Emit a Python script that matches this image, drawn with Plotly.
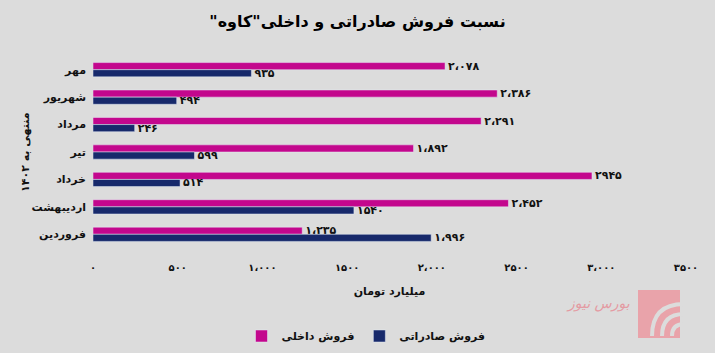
import plotly.graph_objects as go

months = ["مهر", "شهریور", "مرداد", "تیر", "خرداد", "اردیبهشت", "فروردین"]
domestic = [2078, 2386, 2291, 1892, 2945, 2452, 1235]
export = [935, 494, 246, 599, 514, 1540, 1996]
domestic_labels = ["۲،۰۷۸", "۲،۳۸۶", "۲،۲۹۱", "۱،۸۹۲", "۲۹۴۵", "۲،۴۵۲", "۱،۲۳۵"]
export_labels = ["۹۳۵", "۴۹۴", "۲۴۶", "۵۹۹", "۵۱۴", "۱۵۴۰", "۱،۹۹۶"]
tick_vals = [0, 500, 1000, 1500, 2000, 2500, 3000, 3500]
tick_text = ["۰", "۵۰۰", "۱،۰۰۰", "۱۵۰۰", "۲،۰۰۰", "۲۵۰۰", "۳،۰۰۰", "۳۵۰۰"]

PINK = "#C3078D"
NAVY = "#17296B"
FONT = "DejaVu Sans"

W, H = 715, 353
ML, MR, MT, MB = 93, 29, 56, 105
PW, PH = W - ML - MR, H - MT - MB


def px(x):
    return (x - ML) / PW


def py(y):
    return (H - MB - y) / PH


fig = go.Figure()
fig.add_trace(go.Bar(
    y=months, x=domestic, orientation="h", name="<b>فروش داخلی</b>",
    marker_color=PINK, text=[f"<b>{t}</b>" for t in domestic_labels],
    textposition="outside", constraintext="none",
    textfont=dict(family=FONT, size=11, color="#111111"), cliponaxis=False,
))
fig.add_trace(go.Bar(
    y=months, x=export, orientation="h", name="<b>فروش صادراتی</b>",
    marker_color=NAVY, text=[f"<b>{t}</b>" for t in export_labels],
    textposition="outside", constraintext="none",
    textfont=dict(family=FONT, size=11, color="#111111"), cliponaxis=False,
))

fig.update_layout(
    width=W, height=H,
    margin=dict(l=ML, r=MR, t=MT, b=MB, autoexpand=False),
    paper_bgcolor="#DCDCDC", plot_bgcolor="#DCDCDC",
    barmode="group", bargap=0.48, bargroupgap=0,
    font=dict(family=FONT, size=11, color="#111111"),
    title=dict(text="<b>نسبت فروش صادراتی و داخلی\"کاوه\"\u200f</b>",
               x=0.5, xanchor="center", y=0.94, yanchor="middle",
               font=dict(family=FONT, size=16, color="#000000")),
    xaxis=dict(range=[0, 3500], tickvals=tick_vals,
               ticktext=[f"<b>{t}</b>" for t in tick_text],
               showgrid=False, zeroline=False, showline=False,
               ticks="", ticklabelstandoff=12,
               tickfont=dict(family=FONT, size=10, color="#111111"),
               title=dict(text="<b>میلیارد تومان</b>", standoff=15,
                          font=dict(family=FONT, size=11))),
    yaxis=dict(autorange="reversed", showgrid=False, zeroline=False,
               showline=False, ticks="", ticklabelstandoff=6,
               tickvals=months, ticktext=[f"<b>{m}</b>" for m in months],
               tickfont=dict(family=FONT, size=11, color="#111111")),
    legend=dict(orientation="h", x=px(366), xanchor="center", y=py(336),
                yanchor="middle", traceorder="normal",
                font=dict(family=FONT, size=11), bgcolor="rgba(0,0,0,0)"),
    showlegend=True,
)

# y-axis title
fig.add_annotation(xref="paper", yref="paper", x=px(25), y=0.5,
                   text="<b>منتهی به ۱۴۰۲</b>", textangle=-90, showarrow=False,
                   xanchor="center", yanchor="middle",
                   font=dict(family=FONT, size=11, color="#111111"))

# watermark logo (approximate)
fig.add_shape(type="rect", xref="paper", yref="paper",
              x0=px(638), x1=px(680), y0=py(338), y1=py(290),
              fillcolor="#E9A3AA", line_width=0, layer="below")
for r in (12, 22, 32):
    cx, cy = 684, 336
    path = (f"M {px(cx - r)} {py(cy)} "
            f"Q {px(cx - r)} {py(cy - r)} {px(cx)} {py(cy - r)}")
    fig.add_shape(type="path", xref="paper", yref="paper", path=path,
                  line=dict(color="#DCDCDC", width=4), layer="below")
fig.add_annotation(xref="paper", yref="paper", x=px(632), y=py(314),
                   text="<i>بورس نیوز</i>", showarrow=False, xanchor="right",
                   font=dict(family=FONT, size=14, color="#E49AA2"))

fig.write_html("out.html")
